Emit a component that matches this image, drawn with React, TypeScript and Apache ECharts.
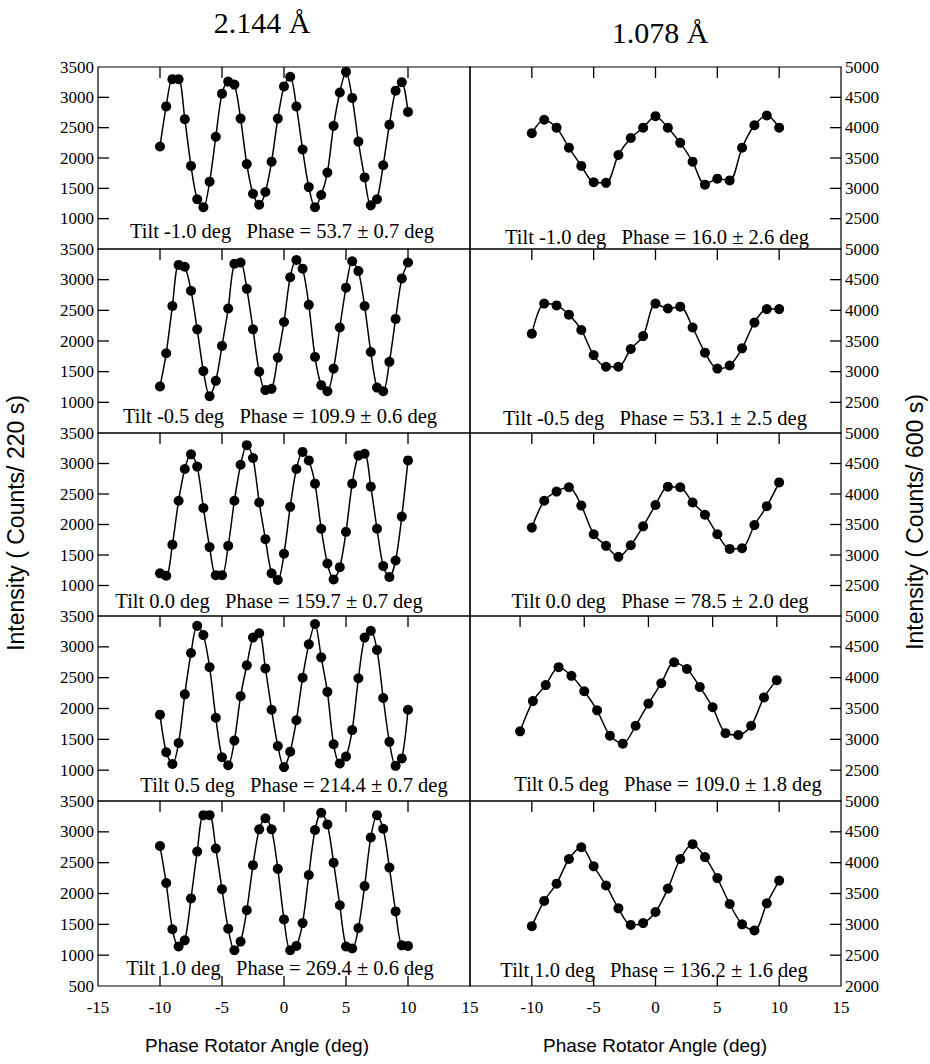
import React, { useEffect, useRef } from "react";
import * as echarts from "echarts";

// ---------- data ----------
const ANGLE_FINE = [
  -10, -9.5, -9, -8.5, -8, -7.5, -7, -6.5, -6, -5.5, -5, -4.5, -4, -3.5, -3, -2.5, -2, -1.5, -1, -0.5,
  0, 0.5, 1, 1.5, 2, 2.5, 3, 3.5, 4, 4.5, 5, 5.5, 6, 6.5, 7, 7.5, 8, 8.5, 9, 9.5, 10,
];
const ANGLE_COARSE = [-10, -9, -8, -7, -6, -5, -4, -3, -2, -1, 0, 1, 2, 3, 4, 5, 6, 7, 8, 9, 10];

// 2.144 Å (counts / 220 s)
const L_TILT_M10 = [2190, 2850, 3300, 3300, 2640, 1870, 1320, 1190, 1610, 2350, 3060, 3260, 3210, 2650, 1900, 1410, 1230, 1440, 1940, 2650, 3180, 3340, 2850, 2140, 1520, 1190, 1390, 1760, 2530, 3080, 3420, 2990, 2270, 1680, 1220, 1320, 1880, 2550, 3110, 3250, 2760];
const L_TILT_M05 = [1260, 1800, 2570, 3240, 3210, 2820, 2190, 1510, 1100, 1350, 1920, 2530, 3260, 3280, 2850, 2190, 1500, 1200, 1220, 1730, 2310, 3040, 3320, 3180, 2590, 1740, 1280, 1180, 1550, 2220, 2870, 3300, 3140, 2570, 1820, 1240, 1180, 1660, 2360, 3020, 3280];
const L_TILT_00 = [1200, 1160, 1670, 2390, 2910, 3150, 2950, 2270, 1630, 1170, 1170, 1650, 2390, 2980, 3300, 3090, 2360, 1760, 1200, 1090, 1520, 2290, 2910, 3190, 3050, 2670, 1930, 1360, 1100, 1300, 1880, 2670, 3130, 3160, 2620, 1930, 1320, 1140, 1410, 2130, 3050];
const L_TILT_P05 = [1900, 1290, 1100, 1440, 2230, 2900, 3340, 3190, 2670, 1850, 1210, 1080, 1480, 2200, 2700, 3150, 3220, 2650, 1980, 1390, 1050, 1300, 1810, 2500, 3040, 3370, 2830, 2270, 1420, 1110, 1220, 1650, 2490, 3150, 3260, 2950, 2170, 1460, 1070, 1190, 1980];
const L_TILT_P10 = [2770, 2170, 1420, 1140, 1240, 1920, 2680, 3270, 3270, 2730, 2070, 1430, 1080, 1220, 1730, 2460, 3040, 3220, 3040, 2400, 1580, 1080, 1150, 1520, 2300, 3030, 3310, 3120, 2500, 1810, 1140, 1110, 1440, 2120, 2910, 3270, 3050, 2420, 1710, 1160, 1150];

// 1.078 Å (counts / 600 s)
const R_TILT_M10 = [3910, 4130, 4000, 3670, 3370, 3100, 3090, 3550, 3830, 4000, 4190, 4000, 3750, 3440, 3060, 3160, 3130, 3670, 4040, 4200, 4000];
const R_TILT_M05 = [3620, 4110, 4080, 3930, 3680, 3270, 3080, 3080, 3370, 3580, 4110, 4030, 4060, 3720, 3310, 3050, 3100, 3380, 3800, 4020, 4020];
const R_TILT_00 = [3450, 3890, 4040, 4110, 3810, 3340, 3150, 2970, 3160, 3470, 3820, 4120, 4110, 3860, 3660, 3340, 3100, 3110, 3490, 3800, 4190];
const R_TILT_P05 = [3130, 3620, 3880, 4170, 4030, 3780, 3470, 3060, 2930, 3220, 3580, 3910, 4250, 4140, 3850, 3520, 3100, 3070, 3220, 3680, 3960];
const R_TILT_P10 = [2970, 3380, 3660, 4060, 4250, 3940, 3630, 3260, 2990, 3020, 3200, 3580, 4060, 4300, 4090, 3750, 3330, 3000, 2900, 3340, 3710];

const LEFT_SERIES = [L_TILT_M10, L_TILT_M05, L_TILT_00, L_TILT_P05, L_TILT_P10];
const RIGHT_SERIES = [R_TILT_M10, R_TILT_M05, R_TILT_00, R_TILT_P05, R_TILT_P10];

const LEFT_NOTES = [
  "Tilt -1.0 deg   Phase = 53.7 ± 0.7 deg",
  "Tilt -0.5 deg   Phase = 109.9 ± 0.6 deg",
  "Tilt 0.0 deg   Phase = 159.7 ± 0.7 deg",
  "Tilt 0.5 deg   Phase = 214.4 ± 0.7 deg",
  "Tilt 1.0 deg   Phase = 269.4 ± 0.6 deg",
];
const RIGHT_NOTES = [
  "Tilt -1.0 deg   Phase = 16.0 ± 2.6 deg",
  "Tilt -0.5 deg   Phase = 53.1 ± 2.5 deg",
  "Tilt 0.0 deg   Phase = 78.5 ± 2.0 deg",
  "Tilt 0.5 deg   Phase = 109.0 ± 1.8 deg",
  "Tilt 1.0 deg   Phase = 136.2 ± 1.6 deg",
];

const COLUMN_TITLES = ["2.144 Å", "1.078 Å"];
const Y_TITLES = ["Intensity ( Counts/ 220 s)", "Intensity ( Counts/ 600 s)"];
const X_TITLE = "Phase Rotator Angle (deg)";
const X_TICKS = [-10, -5, 0, 5, 10];
const LEFT_Y_TICKS = [1000, 1500, 2000, 2500, 3000];
const RIGHT_Y_TICKS = [2500, 3000, 3500, 4000, 4500];
const LEFT_Y_RANGE = [500, 3500];
const RIGHT_Y_RANGE = [2000, 5000];
const X_RANGE = [-15, 15];

// ---------- layout ----------
const SERIF = '"Liberation Serif", "Times New Roman", serif';
const SANS = '"Liberation Sans", Arial, sans-serif';
const TOPS = [67, 249, 433, 616, 801];
const BOTTOM = 986;
const COL_LEFT = [98, 470];
const COL_WIDTH = [372, 371];
const TICK_LEN = 11;
const NOTE_POS = [
  [[282, 231], [657, 237]],
  [[280, 416], [655, 418]],
  [[269, 601], [660, 601]],
  [[294, 785], [668, 784]],
  [[280, 968], [654, 970]],
];

const plain = (v: number) => String(v);
const xMinOf = (r: number, c: number) => (c === 1 && r === 3 ? -13.9 : X_RANGE[0]);

function buildOption() {
  const grid: any[] = [];
  const xAxis: any[] = [];
  const yAxis: any[] = [];
  const series: any[] = [];

  for (let r = 0; r < 5; r++) {
    for (let c = 0; c < 2; c++) {
      const g = r * 2 + c;
      const h = (r < 4 ? TOPS[r + 1] : BOTTOM) - TOPS[r];
      grid.push({
        left: COL_LEFT[c], width: COL_WIDTH[c], top: TOPS[r], height: h,
        show: true, borderColor: "#000", borderWidth: 1.2, backgroundColor: "rgba(0,0,0,0)",
      });
      const shifted = c === 1 && r === 3;
      const yr = c === 0 ? LEFT_Y_RANGE : RIGHT_Y_RANGE;
      const bottomRow = r === 4;
      xAxis.push({
        gridIndex: g, type: "value", position: "bottom", min: xMinOf(r, c), max: X_RANGE[1],
        ...(shifted ? {} : { interval: 5 }),
        axisLine: { show: false, onZero: false },
        axisTick: { show: false },
        axisLabel: bottomRow
          ? { show: true, color: "#000", fontFamily: SERIF, fontSize: 17, margin: 13, formatter: plain, showMinLabel: c === 0 }
          : { show: false },
        splitLine: { show: false },
      });
      yAxis.push({
        gridIndex: g, type: "value", position: c === 0 ? "left" : "right", min: yr[0], max: yr[1], interval: 500,
        axisLine: { show: false, onZero: false },
        axisTick: { show: false },
        axisLabel: { show: true, color: "#000", fontFamily: SERIF, fontSize: 17, margin: 4, formatter: plain, showMinLabel: bottomRow, showMaxLabel: true },
        splitLine: { show: false },
      });
      const xs = c === 0 ? ANGLE_FINE : ANGLE_COARSE;
      const vals = c === 0 ? LEFT_SERIES[r] : RIGHT_SERIES[r];
      series.push({
        type: "line",
        xAxisIndex: g,
        yAxisIndex: g,
        data: xs.map((x, i) => [x, vals[i]]),
        smooth: 0.3,
        symbol: "circle",
        symbolSize: 10,
        itemStyle: { color: "#000" },
        lineStyle: { color: "#000", width: 1.5 },
        z: 3,
      });
    }
  }
  return { animation: false, backgroundColor: "#fff", grid, xAxis, yAxis, series };
}

function buildGraphic(chart: any) {
  const graphic: any[] = [];
  const tickStyle = { stroke: "#000", lineWidth: 1.3 };
  const seg = (x1: number, y1: number, x2: number, y2: number) => ({
    type: "line", silent: true, z: 5, shape: { x1, y1, x2, y2 }, style: tickStyle,
  });
  for (let r = 0; r < 5; r++) {
    for (let c = 0; c < 2; c++) {
      const g = r * 2 + c;
      const yr = c === 0 ? LEFT_Y_RANGE : RIGHT_Y_RANGE;
      const xMin = xMinOf(r, c);
      const xMax = X_RANGE[1];
      const px = (x: number, y: number) => chart.convertToPixel({ gridIndex: g }, [x, y]) as number[];
      const yTicks = c === 0 ? LEFT_Y_TICKS : RIGHT_Y_TICKS;
      yTicks.forEach((v) => {
        const p = px(c === 0 ? xMin : xMax, v);
        const d = c === 0 ? TICK_LEN : -TICK_LEN;
        graphic.push(seg(p[0], p[1], p[0] + d, p[1]));
      });
      X_TICKS.forEach((v) => {
        const p = px(v, yr[1]);
        graphic.push(seg(p[0], p[1], p[0], p[1] + TICK_LEN));
        if (r === 4) {
          const q = px(v, yr[0]);
          graphic.push(seg(q[0], q[1], q[0], q[1] - 10));
        }
      });
      const [nx, ny] = NOTE_POS[r][c];
      graphic.push({
        type: "text", x: nx, y: ny, z: 6,
        style: {
          text: c === 0 ? LEFT_NOTES[r] : RIGHT_NOTES[r],
          fontFamily: SERIF, fontSize: 20.5, fill: "#000",
          textAlign: "center", textVerticalAlign: "middle",
        },
      });
    }
  }
  const titlePos = [[262, 22], [660, 32]];
  COLUMN_TITLES.forEach((t, i) => {
    graphic.push({
      type: "text", x: titlePos[i][0], y: titlePos[i][1],
      style: { text: t, fontFamily: SERIF, fontSize: 30, fill: "#000", textAlign: "center", textVerticalAlign: "middle" },
    });
  });
  const yTitlePos = [[16, 523], [915, 522]];
  Y_TITLES.forEach((t, i) => {
    graphic.push({
      type: "text", x: yTitlePos[i][0], y: yTitlePos[i][1], rotation: Math.PI / 2,
      style: { text: t, fontFamily: SANS, fontSize: 23, fill: "#000", textAlign: "center", textVerticalAlign: "middle" },
    });
  });
  const xTitlePos = [[257, 1045], [655, 1045]];
  xTitlePos.forEach((p) => {
    graphic.push({
      type: "text", x: p[0], y: p[1],
      style: { text: X_TITLE, fontFamily: SANS, fontSize: 19, fill: "#000", textAlign: "center", textVerticalAlign: "middle" },
    });
  });
  return graphic;
}

export default function App() {
  const ref = useRef<HTMLDivElement>(null);
  useEffect(() => {
    document.body.style.margin = "0";
    if (!ref.current) return;
    const chart = echarts.init(ref.current, null, { renderer: "svg" });
    chart.setOption(buildOption() as any);
    chart.setOption({ graphic: buildGraphic(chart) } as any);
    return () => chart.dispose();
  }, []);
  return <div ref={ref} style={{ width: 930, height: 1064 }} />;
}
